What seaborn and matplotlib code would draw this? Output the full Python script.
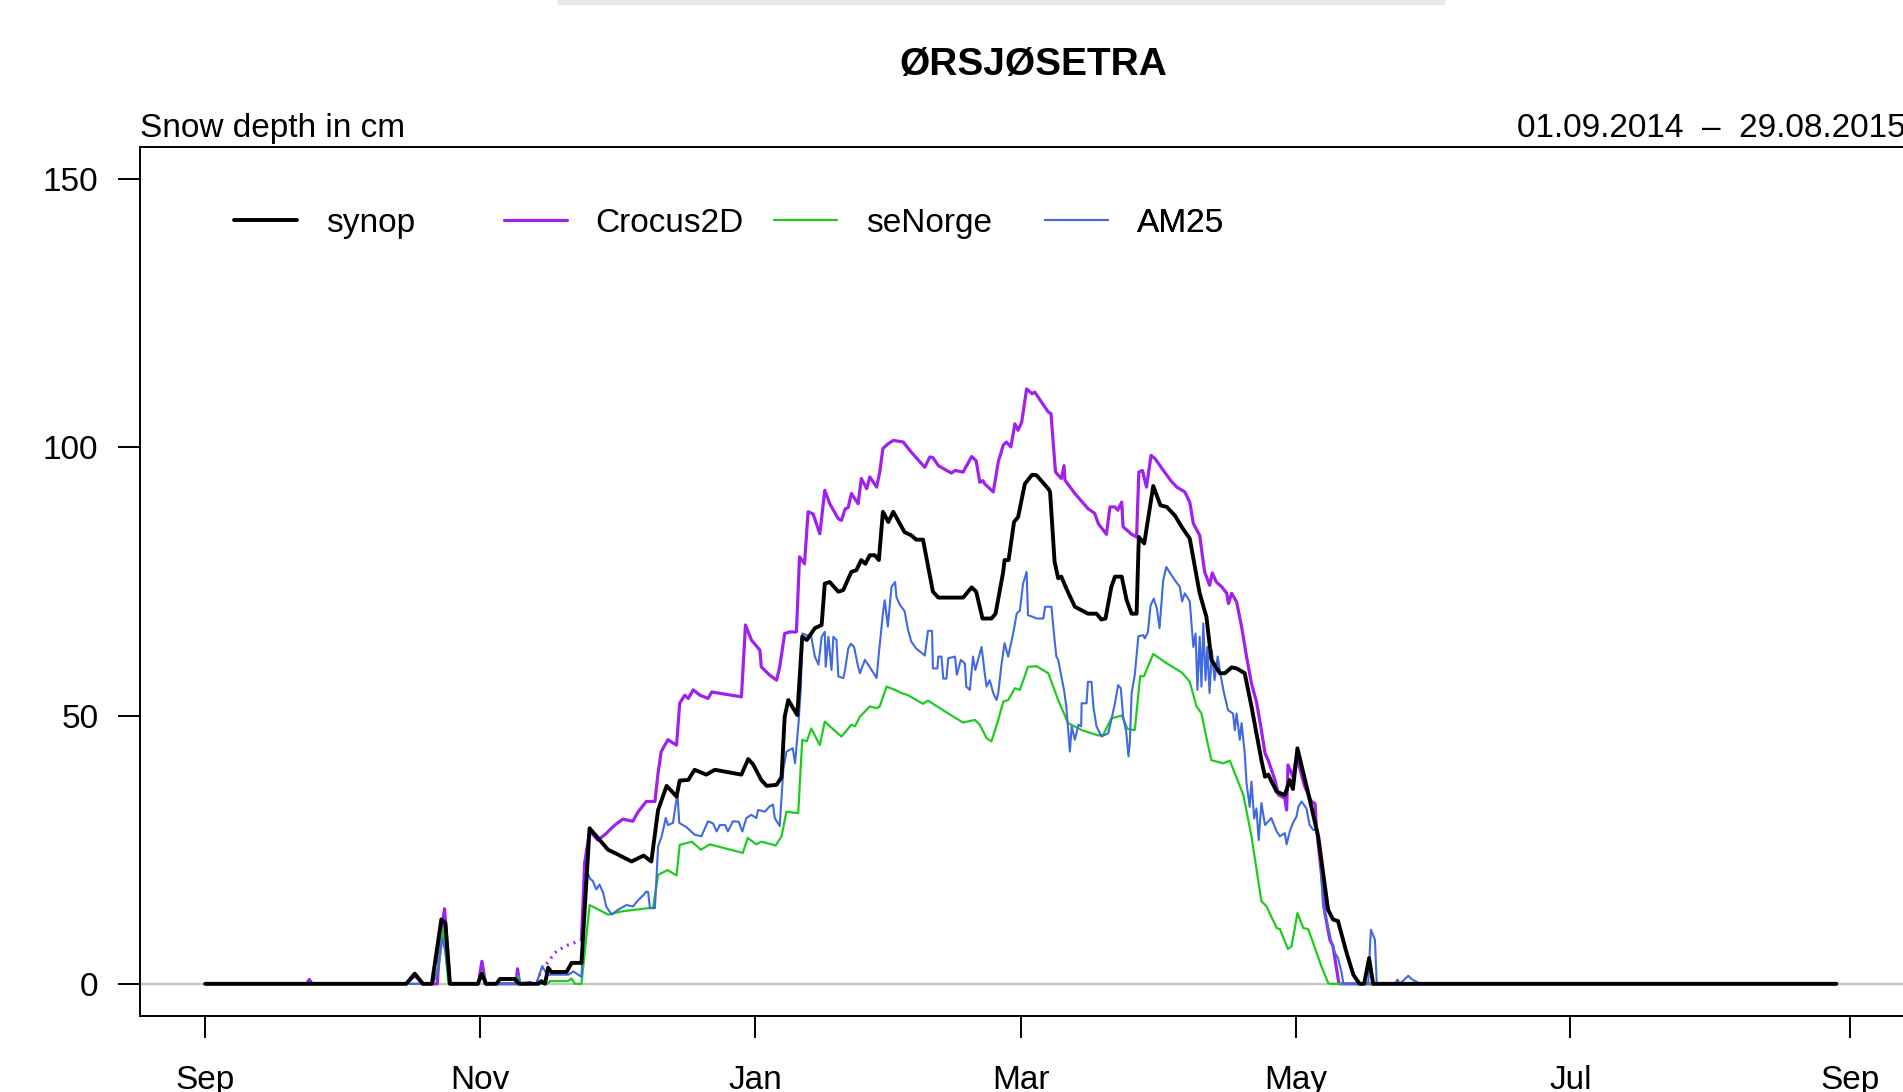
import numpy as np
import pandas as pd
import matplotlib
matplotlib.use("Agg")
import matplotlib.pyplot as plt
import matplotlib.dates as mdates
from matplotlib.lines import Line2D
from matplotlib.patches import Rectangle
import seaborn as sns

# ---------------------------------------------------------------------------
# Snow depth (cm) at Ørsjøsetra, season 2014/15.
# Each series is given by its vertices: day offset from 01.09.2014 and depth.
# ---------------------------------------------------------------------------
season_start = "2014-09-01"
station = "ØRSJØSETRA"
period_label = "01.09.2014  \u2013  29.08.2015"
y_label = "Snow depth in cm"
series_names = ["synop", "Crocus2D", "seNorge", "AM25"]
y_ticks = [0, 50, 100, 150]

synop_days = [0, 44.6, 46.5, 48.3, 50.3, 52.4, 53.3, 54.3, 60.5, 61.4, 62.3, 64.6, 65.4, 68.7,
              69.6, 73.9, 74.6, 75.4, 76.1, 76.8, 80.2, 81.3, 83.5, 85.3, 89.4, 91.6, 94.6, 97.3,
              99.0, 100.5, 102.4, 104.6, 105.3, 107.2, 108.6, 111.2, 113.1, 119.0, 120.5, 121.6,
              123.4, 124.6, 126.8, 127.9, 128.6, 129.4, 131.4, 132.5, 133.5, 135.3, 136.8, 137.5,
              138.6, 140.5, 141.6, 143.4, 144.5, 145.6, 146.5, 147.5, 148.6, 149.5, 150.4, 151.6,
              152.7, 155.2, 156.7, 157.8, 159.3, 161.5, 162.7, 168.2, 170.1, 171.1, 172.5, 174.5,
              175.4, 177.1, 177.4, 178.3, 179.5, 180.4, 181.9, 183.5, 184.5, 187.1, 187.5, 188.5,
              189.3, 190.0, 191.1, 193.0, 194.1, 195.9, 197.8, 198.9, 199.8, 201.1, 201.9, 203.4,
              204.5, 205.6, 206.7, 207.2, 208.4, 210.4, 212.0, 213.4, 215.2, 216.7, 218.5, 220.7,
              222.2, 223.3, 225.2, 226.3, 227.8, 228.9, 230.7, 232.2, 234.4, 235.2, 235.9, 237.8,
              239.6, 240.7, 241.4, 242.4, 244.8, 247.0, 249.2, 250.3, 251.4, 253.3, 254.8, 256.2,
              257.2, 258.3, 259.2, 362]
synop_cm = [0, 0, 1.9, 0, 0, 12.0, 11.3, 0, 0, 1.9, 0, 0, 0.9, 0.9,
            0, 0, 0.5, 0, 3.0, 2.2, 2.2, 3.9, 3.9, 29.0, 25.0, 24.1, 22.8, 23.9,
            22.8, 32.4, 36.9, 34.9, 37.9, 38.0, 39.9, 39.0, 39.9, 39.0, 41.9, 40.9,
            38.0, 36.9, 37.1, 38.5, 49.8, 52.9, 50.1, 64.7, 64.1, 66.3, 66.9, 74.6,
            74.9, 73.1, 73.4, 76.8, 77.1, 79.0, 78.3, 79.9, 79.9, 79.0, 88.0, 86.1,
            88.0, 84.2, 83.6, 82.8, 82.8, 73.1, 72.0, 72.0, 73.9, 73.1, 68.1, 68.1,
            69.0, 76.8, 79.0, 79.0, 86.1, 87.0, 93.2, 94.9, 94.8, 92.3, 91.7, 78.7,
            75.6, 75.9, 73.7, 70.3, 69.8, 69.0, 69.0, 67.9, 68.1, 74.0, 75.9, 75.9,
            71.5, 69.0, 69.0, 83.3, 82.1, 92.8, 89.2, 88.9, 87.3, 85.2, 83.0, 72.8,
            68.4, 60.4, 57.9, 57.9, 59.0, 58.8, 57.9, 51.7, 41.7, 38.6, 39.0, 35.8,
            35.2, 38.0, 36.3, 43.9, 35.5, 27.5, 13.8, 12.0, 11.7, 5.8, 1.7, 0,
            0, 4.8, 0, 0]

crocus_days = [0, 22.5, 23.1, 23.7, 44.6, 46.5, 48.3, 51.5, 52.0, 53.1, 54.3, 60.6, 61.4, 62.2,
               69.0, 69.3, 69.8, 72.0, 73.9, 74.5, 75.5, 77.6, 79.8, 82.7, 83.5, 84.2, 85.3,
               87.1, 88.7, 90.9, 92.7, 94.9, 96.1, 97.9, 99.8, 100.5, 101.2, 102.7, 104.6, 105.3,
               106.4, 107.2, 108.3, 109.8, 111.6, 112.4, 114.6, 119.0, 119.9, 121.2, 123.1, 123.4,
               125.2, 126.8, 127.5, 128.6, 129.7, 131.2, 131.9, 133.0, 133.8, 134.9, 136.4, 137.5,
               138.6, 140.5, 141.2, 142.0, 142.7, 143.4, 144.9, 145.6, 146.8, 147.5, 149.0, 149.7,
               150.4, 151.6, 152.7, 154.9, 156.7, 159.7, 160.8, 161.5, 162.7, 165.6, 166.4, 168.2,
               170.1, 171.1, 171.9, 172.6, 173.0, 174.9, 176.0, 177.1, 177.8, 178.8, 179.7, 180.4,
               181.2, 182.3, 183.5, 184.1, 187.1, 187.7, 188.7, 190.0, 190.6, 190.8, 193.0, 195.9,
               197.4, 198.2, 200.0, 200.8, 201.9, 202.5, 203.4, 203.7, 205.6, 206.7, 207.2, 208.0,
               208.9, 209.9, 210.8, 212.9, 214.4, 215.6, 217.4, 218.5, 219.3, 220.7, 221.8, 222.9,
               223.5, 224.4, 225.6, 226.7, 227.1, 227.8, 228.9, 230.0, 231.1, 232.2, 233.3, 234.4,
               235.2, 235.9, 237.4, 238.2, 239.6, 240.0, 240.3, 241.4, 242.2, 244.0, 245.5, 246.3,
               246.6, 247.7, 248.5, 249.6, 250.3, 251.1, 251.6, 362]
crocus_cm = [0, 0, 0.8, 0, 0, 1.5, 0, 0, 7.0, 14.0, 0, 0, 4.2, 0,
             0, 2.8, 0, 0.2, 0.6, 2.6, 3.4, 5.8, 7.0, 7.9, 8.2, 22.5, 28.5,
             26.8, 27.8, 29.6, 30.7, 30.3, 32.1, 34.0, 34.0, 39.3, 43.3, 45.5, 44.5, 52.3,
             53.8, 53.2, 54.8, 53.8, 53.2, 54.4, 54.1, 53.5, 66.9, 64.1, 62.2, 59.1,
             57.6, 56.6, 59.1, 65.3, 65.6, 65.6, 79.6, 78.3, 88.0, 87.6, 83.9, 92.0,
             89.5, 86.7, 86.4, 88.5, 88.8, 91.4, 89.5, 94.2, 92.3, 94.5, 92.6, 95.4,
             99.8, 100.7, 101.3, 101.0, 99.1, 96.3, 98.2, 98.1, 96.6, 95.2, 95.7, 95.4,
             98.3, 97.5, 93.5, 93.8, 93.2, 91.7, 97.3, 100.4, 101.0, 100.1, 104.4, 103.2,
             104.7, 110.9, 110.0, 110.3, 106.6, 106.3, 95.4, 94.2, 96.6, 93.9, 91.4, 88.6,
             87.7, 85.8, 83.8, 88.9, 88.9, 88.3, 89.8, 85.2, 83.8, 83.3, 95.4, 95.7,
             92.6, 98.5, 97.9, 95.4, 93.7, 92.6, 91.7, 89.8, 85.8, 83.6, 76.8, 74.3,
             76.6, 74.9, 74.0, 72.8, 70.9, 72.8, 71.2, 66.6, 61.0, 56.0, 52.6, 47.3,
             43.0, 41.7, 38.0, 35.2, 34.6, 32.4, 40.8, 38.6, 42.4, 36.8, 34.0, 33.6,
             29.3, 20.7, 13.2, 8.2, 7.0, 2.7, 0, 0]
# stretch of the Crocus2D series drawn dotted
crocus_dotted_span = (72.0, 83.5)

senorge_days = [0, 50.5, 51.5, 52.8, 54.0, 60.6, 61.4, 62.2, 69.0, 69.5, 70.0, 76.0, 76.5, 80.5,
                81.3, 82.0, 83.5, 85.3, 89.4, 92.4, 95.3, 99.4, 100.5, 102.6, 104.6, 105.3, 108.0,
                110.0, 112.0, 119.3, 120.4, 122.3, 123.4, 126.6, 127.9, 129.0, 131.6, 132.5, 133.5,
                134.5, 136.4, 137.5, 139.3, 141.2, 143.4, 144.2, 145.3, 147.5, 149.0, 149.7, 151.2,
                153.1, 154.5, 156.0, 159.3, 160.4, 164.9, 168.2, 170.8, 171.9, 173.4, 174.5, 176.0,
                177.1, 178.2, 179.7, 180.8, 182.6, 184.5, 187.1, 189.3, 191.5, 194.5, 198.2, 199.3,
                201.1, 203.4, 204.7, 206.3, 207.5, 208.3, 210.4, 213.3, 216.8, 218.5, 220.0, 221.1,
                222.3, 223.3, 225.9, 227.4, 230.4, 232.2, 234.4, 235.5, 237.8, 238.5, 240.3, 241.1,
                242.4, 243.7, 244.8, 247.7, 249.2, 249.6, 362]
senorge_cm = [0, 0, 2.0, 10.1, 0, 0, 2.3, 0, 0, 1.5, 0, 0, 0.5, 0.5,
              1.0, 0, 0, 14.7, 12.9, 13.5, 13.8, 14.2, 20.3, 21.2, 20.2, 25.9, 26.5,
              25.0, 26.0, 24.4, 27.2, 26.0, 26.5, 25.8, 27.5, 32.1, 31.8, 45.5, 45.2,
              47.6, 44.5, 48.9, 47.5, 46.1, 48.3, 48.0, 49.8, 51.7, 51.4, 51.7, 55.4,
              54.8, 54.2, 53.8, 52.2, 52.8, 50.4, 48.7, 49.2, 48.3, 45.8, 45.2, 49.2,
              52.6, 52.9, 55.1, 54.8, 59.1, 59.2, 57.9, 52.9, 48.6, 47.3, 46.3, 46.4,
              49.5, 50.0, 47.5, 47.3, 57.4, 57.3, 61.5, 59.8, 58.0, 56.3, 51.7, 50.4,
              45.5, 41.7, 41.1, 41.6, 35.2, 27.5, 15.4, 14.5, 10.4, 10.2, 6.5, 7.0,
              13.2, 10.4, 10.2, 3.3, 0.2, 0, 0]

am25_days = [0, 50.5, 51.8, 52.6, 53.3, 54.2, 60.6, 61.4, 62.2, 69.0, 69.5, 70.0, 73.5, 74.0,
             74.8, 75.9, 80.6, 81.7, 83.5, 84.6, 85.5, 86.0, 86.8, 87.5, 88.3, 89.0, 90.2, 91.6,
             93.5, 94.9, 96.1, 97.2, 97.9, 98.3, 98.7, 99.8, 100.5, 101.3, 102.2, 102.7, 103.8,
             104.8, 105.2, 106.8, 108.6, 110.1, 111.6, 112.7, 113.5, 114.2, 115.4, 116.0, 117.1,
             118.4, 119.2, 120.1, 121.2, 122.3, 122.7, 124.2, 125.3, 126.0, 126.4, 127.5, 128.3,
             129.0, 130.4, 130.9, 131.7, 132.2, 132.5, 134.5, 135.3, 136.1, 136.8, 137.5, 137.7,
             138.3, 139.0, 139.4, 140.1, 140.5, 141.6, 142.0, 142.7, 143.3, 144.0, 144.9, 145.3,
             146.4, 147.9, 149.0, 149.5, 150.4, 150.8, 151.5, 152.3, 153.1, 153.4, 154.2, 155.2,
             156.0, 156.7, 157.8, 159.7, 160.4, 161.3, 161.5, 162.5, 162.7, 163.4, 163.8, 164.5,
             164.9, 166.4, 166.8, 167.7, 168.6, 168.9, 169.7, 170.4, 170.9, 172.3, 173.0, 173.4,
             174.1, 174.9, 175.6, 176.0, 176.7, 177.4, 178.2, 179.3, 180.1, 180.8, 181.5, 182.3,
             182.6, 183.7, 184.5, 186.0, 186.4, 187.8, 188.5, 188.9, 189.3, 190.0, 190.6, 191.1,
             191.9, 192.3, 193.0, 193.8, 194.4, 194.5, 195.6, 195.9, 196.7, 197.1, 197.8, 198.9,
             200.4, 201.1, 201.9, 202.6, 203.2, 203.7, 204.4, 204.9, 205.2, 205.6, 206.3, 207.1,
             208.2, 208.5, 209.2, 209.8, 210.5, 211.2, 211.8, 212.6, 213.3, 214.2, 215.4, 216.3,
             216.8, 217.4, 218.5, 219.3, 219.8, 220.2, 220.7, 221.1, 221.5, 222.0, 222.4, 222.9,
             223.4, 224.0, 224.7, 225.4, 226.1, 227.0, 228.1, 228.5, 228.9, 229.6, 230.0, 230.7,
             231.1, 231.8, 232.2, 232.8, 233.3, 233.8, 234.4, 235.2, 236.6, 237.8, 238.5, 239.6,
             240.0, 240.7, 241.4, 242.2, 242.6, 243.3, 244.4, 245.1, 245.9, 246.6, 247.4, 248.1,
             248.9, 250.0, 250.7, 251.4, 252.2, 252.6, 258.1, 258.7, 259.6, 260.0, 264.0, 264.6,
             265.1, 267.0, 267.7, 269.6, 362]
am25_cm = [0, 0, 3.0, 8.5, 6.0, 0, 0, 1.5, 0, 0, 1.0, 0, 0, 1.3,
           3.3, 1.7, 1.7, 2.3, 1.3, 21.0, 19.5, 19.2, 17.6, 18.5, 17.0, 14.4, 12.9, 13.8,
           14.7, 14.4, 15.6, 16.5, 17.2, 17.1, 14.1, 14.1, 25.6, 27.5, 30.9, 29.6, 30.0,
           35.5, 30.0, 29.2, 27.8, 27.5, 30.3, 29.9, 28.4, 29.6, 29.6, 28.4, 30.3,
           30.2, 28.4, 30.9, 31.5, 30.9, 32.4, 32.1, 33.1, 33.4, 30.9, 29.4, 40.0,
           43.3, 43.9, 41.1, 48.9, 55.4, 65.3, 64.7, 61.0, 59.5, 64.7, 65.6, 59.1,
           64.7, 58.5, 64.7, 64.1, 57.3, 57.0, 58.5, 62.5, 63.4, 62.8, 59.1, 57.9,
           60.4, 58.5, 57.0, 61.6, 69.0, 71.5, 66.6, 74.0, 74.9, 72.1, 70.6, 69.5,
           65.9, 63.8, 62.5, 61.2, 65.8, 65.8, 58.8, 58.8, 61.0, 61.0, 56.9, 56.9,
           60.7, 61.0, 57.6, 60.4, 59.7, 55.4, 54.8, 61.0, 58.5, 62.8, 57.9, 55.4,
           56.6, 54.2, 52.9, 54.2, 59.4, 63.5, 61.0, 65.3, 69.0, 69.6, 74.6, 76.8,
           68.7, 68.4, 68.1, 68.1, 70.3, 70.3, 64.1, 61.0, 60.4, 57.3, 54.8, 51.7,
           43.3, 48.0, 45.5, 48.3, 48.0, 52.3, 52.3, 56.3, 56.3, 51.7, 48.0, 46.1,
           46.7, 49.2, 52.3, 55.7, 55.1, 49.9, 47.0, 42.4, 45.0, 54.2, 57.6, 64.8,
           65.0, 64.4, 65.5, 70.5, 71.8, 70.0, 66.3, 75.2, 77.7, 76.5, 75.0, 74.0,
           71.3, 72.8, 71.3, 62.8, 65.3, 54.8, 64.7, 55.4, 67.2, 56.6, 62.8, 54.2,
           62.2, 56.6, 61.0, 57.3, 54.2, 51.0, 50.4, 47.3, 50.4, 45.5, 48.6, 43.0,
           37.4, 33.0, 37.7, 30.8, 32.7, 26.8, 33.7, 29.6, 30.9, 28.4, 27.5, 28.1,
           26.0, 28.4, 30.0, 31.2, 33.0, 34.0, 32.7, 29.6, 28.7, 28.7, 25.0, 14.4,
           11.7, 7.6, 5.8, 4.8, 2.1, 0, 0, 10.1, 8.2, 0, 0, 0.8,
           0, 1.5, 0.9, 0, 0]

# ---------------------------------------------------------------------------
start = pd.Timestamp(season_start)


def to_frame(days, values):
    days = np.asarray(days, dtype=float)
    return pd.DataFrame({"date": start + pd.to_timedelta(days, unit="D"),
                         "day": days,
                         "depth": np.asarray(values, dtype=float)})


synop = to_frame(synop_days, synop_cm)
crocus = to_frame(crocus_days, crocus_cm)
senorge = to_frame(senorge_days, senorge_cm)
am25 = to_frame(am25_days, am25_cm)

d0, d1 = crocus_dotted_span
crocus_a = crocus[crocus["day"] <= d0]
crocus_dot = crocus[(crocus["day"] >= d0) & (crocus["day"] <= d1)]
crocus_b = crocus[crocus["day"] >= d1]

sns.set_theme(style="white")
plt.rcParams["font.family"] = ["Liberation Sans", "DejaVu Sans"]
plt.rcParams["axes.unicode_minus"] = False
plt.rcParams["text.color"] = "black"
plt.rcParams["axes.labelcolor"] = "black"
plt.rcParams["xtick.color"] = "black"
plt.rcParams["ytick.color"] = "black"

W, H = 1903, 1092
fig = plt.figure(figsize=(W / 100, H / 100), dpi=100)
# plot region in pixels; the right border lies just past the image edge
left, right, top, bottom = 140, 1906, 147, 1016
ax = fig.add_axes([left / W, 1 - bottom / H, (right - left) / W, (bottom - top) / H])

colors = {"synop": "black", "Crocus2D": "#A020F0", "seNorge": "#1ECC1E", "AM25": "#4169E1"}
widths = {"synop": 2.8, "Crocus2D": 2.3, "seNorge": 1.6, "AM25": 1.5}

ax.axhline(0, color="#C4C4C4", lw=1.6, zorder=1)

common = dict(x="date", y="depth", ax=ax, estimator=None, sort=False, legend=False)
sns.lineplot(data=crocus_a, color=colors["Crocus2D"], lw=widths["Crocus2D"], zorder=3, **common)
sns.lineplot(data=crocus_dot, color=colors["Crocus2D"], lw=widths["Crocus2D"],
             linestyle=(0, (0.6, 1.6)), zorder=3, **common)
sns.lineplot(data=crocus_b, color=colors["Crocus2D"], lw=widths["Crocus2D"], zorder=3, **common)
sns.lineplot(data=senorge, color=colors["seNorge"], lw=widths["seNorge"], zorder=4, **common)
sns.lineplot(data=am25, color=colors["AM25"], lw=widths["AM25"], zorder=5, **common)
sns.lineplot(data=synop, color=colors["synop"], lw=widths["synop"], zorder=6, **common)

# x range: 4 % padding around the 362-day record, widened on the right so the
# border sits just outside the image
span = 362
px_per_day = (1848.5 - 203.9) / 365.0
x_left_days = -0.04 * span
x_right_days = x_left_days + (right - left) / px_per_day
ax.set_xlim(start + pd.Timedelta(days=x_left_days), start + pd.Timedelta(days=x_right_days))
ax.set_ylim(-6, 156)
ax.set_yticks(y_ticks)
ax.xaxis.set_major_locator(mdates.MonthLocator(bymonth=[1, 3, 5, 7, 9, 11]))
ax.xaxis.set_major_formatter(mdates.DateFormatter("%b"))
ax.set_xlabel("")
ax.set_ylabel("")

ax.tick_params(axis="both", which="major", labelsize=24, length=16, width=1.4,
               color="black", labelcolor="black", direction="out")
ax.tick_params(axis="x", pad=19.5)
ax.tick_params(axis="y", pad=14)
ax.xaxis.set_ticks_position("bottom")
ax.yaxis.set_ticks_position("left")
for sp in ax.spines.values():
    sp.set_visible(True)
    sp.set_color("black")
    sp.set_linewidth(1.4)

# legend: four evenly spaced entries in one row
ax_w = right - left
legend_px = [234, 504, 774, 1045]
for name, lpx in zip(series_names, legend_px):
    h = Line2D([], [], color=colors[name], lw=widths[name])
    leg = ax.legend([h], [name], loc="center left",
                    bbox_to_anchor=((lpx - left) / ax_w, 0.912),
                    frameon=False, fontsize=24, handlelength=1.9, handletextpad=0.85,
                    borderpad=0, borderaxespad=0)
    for t in leg.get_texts():
        t.set_color("black")
    ax.add_artist(leg)

fig.text(1033 / W, 1 - 75 / H, station, ha="center", va="baseline",
         fontsize=28, fontweight="bold", color="black")
fig.text(left / W, 1 - 137 / H, y_label, ha="left", va="baseline", fontsize=24, color="black")
fig.text(right / W, 1 - 137 / H, period_label, ha="right", va="baseline", fontsize=24,
         color="black")

# thin grey strip along the top edge
fig.patches.append(Rectangle((558 / W, 1 - 4 / H), (1444 - 558) / W, 4 / H,
                             transform=fig.transFigure, color="#E8E8E8", zorder=0))

fig.savefig("out.png", dpi=100)
